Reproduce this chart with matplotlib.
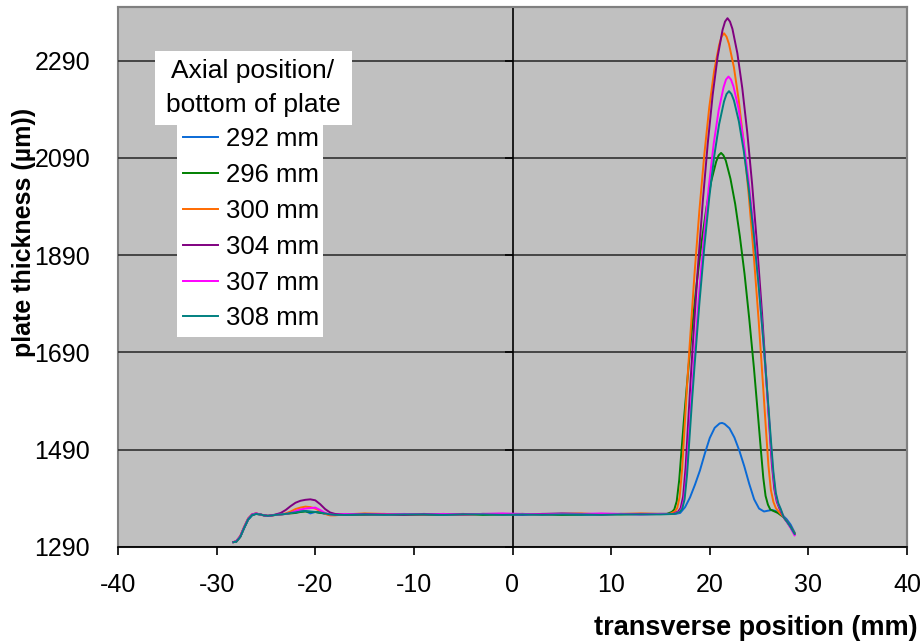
import matplotlib
matplotlib.use("Agg")
import matplotlib.pyplot as plt
from matplotlib.lines import Line2D
from matplotlib.patches import Rectangle

plt.rcParams['font.family'] = ['Liberation Sans', 'DejaVu Sans']
plt.rcParams['axes.unicode_minus'] = False

# ===============================
# Data
# ===============================
series_names = ["292 mm", "296 mm", "300 mm", "304 mm", "307 mm", "308 mm"]
series_colors = ["#0a6ad6", "#008000", "#ff6a00", "#800080", "#ff00ff", "#008080"]

# left part + flat middle, shared x positions (mm)
x_left = [-28.3, -28.0, -27.6, -27.2, -26.8, -26.4, -26.0, -25.6, -25.2, -24.8, -24.4, -24.0,
          -23.5, -23.0, -22.5, -22.0, -21.5, -21.0, -20.5, -20.0, -19.5, -19.0, -18.5, -18.0,
          -17.0, -15.0, -13.0, -11.0, -9.0, -7.0, -5.0, -3.0, -1.0, 1.0, 3.0, 5.0, 7.0, 9.0,
          11.0, 13.0, 15.0]

y_left_292 = [1300, 1301, 1311, 1329, 1346, 1355, 1358, 1357, 1355, 1354, 1355, 1356,
              1357, 1358, 1360, 1361, 1363, 1364, 1359, 1362, 1361, 1358, 1357, 1357,
              1356, 1357, 1358, 1357, 1356, 1357, 1357, 1358, 1357, 1356, 1358, 1357, 1356, 1357,
              1358, 1357, 1358]
y_left_296 = [1300, 1301, 1311, 1330, 1347, 1356, 1358, 1357, 1355, 1354, 1355, 1356,
              1357, 1358, 1359, 1360, 1362, 1363, 1362, 1362, 1360, 1359, 1356, 1356,
              1357, 1356, 1357, 1357, 1356, 1357, 1358, 1356, 1357, 1358, 1357, 1356, 1357, 1358,
              1357, 1358, 1358]
y_left_300 = [1300, 1302, 1313, 1332, 1349, 1357, 1359, 1357, 1355, 1354, 1355, 1356,
              1357, 1359, 1363, 1368, 1371, 1373, 1372, 1369, 1364, 1358, 1355, 1355,
              1357, 1359, 1358, 1357, 1357, 1358, 1356, 1358, 1357, 1358, 1357, 1358, 1359, 1357,
              1358, 1359, 1358]
y_left_304 = [1300, 1302, 1312, 1331, 1348, 1357, 1359, 1357, 1355, 1354, 1355, 1357,
              1360, 1366, 1374, 1381, 1385, 1387, 1388, 1386, 1378, 1368, 1361, 1358,
              1357, 1358, 1357, 1356, 1358, 1357, 1357, 1358, 1358, 1357, 1358, 1359, 1358, 1357,
              1358, 1358, 1358]
y_left_307 = [1300, 1302, 1312, 1331, 1348, 1357, 1359, 1357, 1355, 1354, 1355, 1356,
              1357, 1358, 1360, 1364, 1367, 1369, 1370, 1371, 1366, 1360, 1357, 1356,
              1358, 1357, 1357, 1358, 1357, 1358, 1357, 1358, 1359, 1358, 1357, 1358, 1358, 1359,
              1358, 1357, 1358]
y_left_308 = [1300, 1301, 1311, 1330, 1347, 1356, 1358, 1357, 1355, 1354, 1355, 1356,
              1357, 1358, 1360, 1361, 1363, 1364, 1363, 1362, 1361, 1359, 1357, 1356,
              1356, 1357, 1356, 1357, 1357, 1356, 1357, 1357, 1356, 1357, 1356, 1357, 1357, 1356,
              1357, 1357, 1357]

# peak region, each profile sampled on its own x positions
x_peak_292 = [16.0, 16.5, 17.0, 17.5, 18.0, 18.5, 19.0, 19.5, 20.0, 20.5, 21.0, 21.25, 21.5,
              22.0, 22.5, 23.0, 23.5, 24.0, 24.5, 25.0, 25.5, 26.0, 26.3, 26.7, 27.1, 27.5,
              27.8, 28.2, 28.6]
y_peak_292 = [1358, 1358, 1360, 1372, 1392, 1418, 1447, 1482, 1514, 1535, 1544, 1545, 1543,
              1534, 1515, 1488, 1456, 1420, 1388, 1369, 1363, 1365, 1366, 1364, 1360, 1353,
              1347, 1336, 1320]

x_peak_296 = [15.65, 16.15, 16.4, 16.65, 16.9, 17.15, 17.4, 17.65, 18.15, 18.65, 19.15, 19.65,
              20.15, 20.65, 20.9, 21.15,
              21.39, 21.63, 22.1, 22.58, 23.05, 23.53, 24.0, 24.48, 24.95, 25.19, 25.43, 25.66,
              25.9, 26.14, 26.9, 27.5, 27.9, 28.2, 28.6]
y_peak_296 = [1358, 1362, 1367, 1384, 1427, 1492, 1556, 1615, 1728, 1827, 1913, 1986,
              2042, 2082, 2095, 2100,
              2095, 2084, 2047, 1995, 1929, 1851, 1760, 1658, 1546, 1488, 1432, 1395,
              1377, 1367, 1360, 1351, 1340, 1331, 1318]

x_peak_300 = [15.95, 16.45, 16.7, 16.95, 17.2, 17.45, 17.7, 17.95, 18.45, 18.95, 19.45, 19.95,
              20.45, 20.95, 21.2, 21.45,
              21.7, 21.95, 22.45, 22.95, 23.45, 23.95, 24.45, 24.95, 25.45, 25.7, 25.95, 26.2,
              26.45, 26.7, 27.1, 27.5, 27.9, 28.2, 28.6]
y_peak_300 = [1358, 1363, 1370, 1393, 1450, 1537, 1622, 1701, 1850, 1982, 2097, 2194,
              2269, 2322, 2339, 2346,
              2339, 2324, 2276, 2207, 2119, 2014, 1893, 1758, 1608, 1531, 1457, 1407,
              1383, 1370, 1360, 1351, 1340, 1331, 1318]

x_peak_304 = [16.3, 16.8, 17.05, 17.3, 17.55, 17.8, 18.05, 18.3, 18.8, 19.3, 19.8, 20.3,
              20.8, 21.3, 21.55, 21.8,
              22.05, 22.3, 22.8, 23.3, 23.8, 24.3, 24.8, 25.3, 25.8, 26.05, 26.3, 26.55,
              26.8, 27.05, 27.5, 27.9, 28.2, 28.6]
y_peak_304 = [1358, 1363, 1370, 1394, 1453, 1542, 1630, 1712, 1865, 2002, 2120, 2220,
              2298, 2353, 2370, 2377,
              2370, 2355, 2305, 2233, 2143, 2035, 1910, 1771, 1616, 1536, 1460, 1409,
              1383, 1370, 1351, 1340, 1331, 1316]

x_peak_307 = [16.4, 16.9, 17.15, 17.4, 17.65, 17.9, 18.15, 18.4, 18.9, 19.4, 19.9, 20.4,
              20.9, 21.4, 21.65, 21.9,
              22.15, 22.4, 22.9, 23.4, 23.9, 24.4, 24.9, 25.4, 25.9, 26.15, 26.4, 26.65,
              26.9, 27.15, 27.5, 27.9, 28.2, 28.6]
y_peak_307 = [1358, 1362, 1369, 1389, 1442, 1521, 1598, 1670, 1806, 1926, 2030, 2119,
              2187, 2235, 2251, 2257,
              2251, 2237, 2193, 2130, 2050, 1955, 1845, 1722, 1585, 1515, 1448, 1403,
              1380, 1369, 1351, 1339, 1329, 1314]

x_peak_308 = [16.45, 16.95, 17.2, 17.45, 17.7, 17.95, 18.2, 18.45, 18.95, 19.45, 19.95, 20.45,
              20.95, 21.45, 21.7, 21.95,
              22.2, 22.45, 22.95, 23.45, 23.95, 24.45, 24.95, 25.45, 25.95, 26.2, 26.45, 26.7,
              26.95, 27.2, 27.5, 27.9, 28.2, 28.6]
y_peak_308 = [1358, 1362, 1368, 1388, 1439, 1515, 1590, 1660, 1791, 1907, 2008, 2093,
              2159, 2206, 2221, 2227,
              2221, 2208, 2165, 2104, 2027, 1935, 1829, 1710, 1578, 1510, 1445, 1401,
              1380, 1368, 1351, 1340, 1331, 1317]

y_ticks = [1290, 1490, 1690, 1890, 2090, 2290]
x_ticks = [-40, -30, -20, -10, 0, 10, 20, 30, 40]

profiles = [
    (y_left_292, x_peak_292, y_peak_292),
    (y_left_296, x_peak_296, y_peak_296),
    (y_left_300, x_peak_300, y_peak_300),
    (y_left_304, x_peak_304, y_peak_304),
    (y_left_307, x_peak_307, y_peak_307),
    (y_left_308, x_peak_308, y_peak_308),
]

# ===============================
# Figure
# ===============================
W, H = 923, 644
fig = plt.figure(figsize=(W / 100, H / 100), dpi=100)
fig.patch.set_facecolor("white")
ax = fig.add_axes([118 / W, 1 - 547 / H, (907 - 118) / W, (547 - 7) / H])
ax.set_facecolor("#c0c0c0")
ax.patch.set_edgecolor("#808080")
ax.patch.set_linewidth(1.5)

for (yl, xp, yp), name, col in zip(profiles, series_names, series_colors):
    ax.plot(x_left + xp, yl + yp, color=col, lw=1.4, label=name, zorder=3)

ax.set_xlim(-40, 40)
ax.set_ylim(1290, 2400)

# value axis crosses at x = 0
ax.spines["left"].set_position(("data", 0))
ax.spines["left"].set_color("black")
ax.spines["left"].set_linewidth(1.2)
ax.spines["bottom"].set_color("black")
ax.spines["bottom"].set_linewidth(1.2)
for s in ["top", "right"]:
    ax.spines[s].set_color("#808080")
    ax.spines[s].set_linewidth(1.5)

ax.set_yticks(y_ticks)
ax.tick_params(axis="y", direction="out", length=6, width=1.2, labelleft=False)
ax.yaxis.grid(True, color="#303030", lw=1.2)
ax.set_axisbelow(True)

ax.set_xticks(x_ticks)
ax.tick_params(axis="x", direction="out", length=6, width=1.2, labelsize=18, pad=13)

# tick labels for the value axis sit at the plot edge
sec = ax.secondary_yaxis(0.0)
sec.set_yticks(y_ticks)
sec.tick_params(length=0, labelsize=18, pad=20)
sec.spines["left"].set_visible(False)

fig.text(24 / W, 1 - 232 / H, "plate thickness (µm))", rotation=90, fontsize=18,
         fontweight="bold", ha="center", va="center")
fig.text(918 / W, 1 - 628 / H, "transverse position (mm)", fontsize=19.5,
         fontweight="bold", ha="right", va="center")

# legend: white title box, white entries box below
fig.patches.append(Rectangle((155 / W, 1 - 125 / H), 197 / W, 74 / H,
                             transform=fig.transFigure, facecolor="white",
                             edgecolor="none", zorder=5))
fig.patches.append(Rectangle((177 / W, 1 - 337 / H), 146 / W, 212 / H,
                             transform=fig.transFigure, facecolor="white",
                             edgecolor="none", zorder=5))
fig.text(253 / W, 1 - 71 / H, "Axial position/", fontsize=19, ha="center", va="center",
         zorder=6)
fig.text(253 / W, 1 - 105 / H, "bottom of plate", fontsize=19, ha="center", va="center",
         zorder=6)
handles = [Line2D([], [], color=c, lw=1.4) for c in series_colors]
leg = fig.legend(handles, series_names, loc="upper left",
                 bbox_to_anchor=(182 / W, 1 - 126 / H), bbox_transform=fig.transFigure,
                 fontsize=18.5, frameon=False, borderaxespad=0, borderpad=0.05,
                 handlelength=1.35, handletextpad=0.3, labelspacing=0.46)
leg.set_zorder(6)

fig.savefig("out.png", dpi=100)
